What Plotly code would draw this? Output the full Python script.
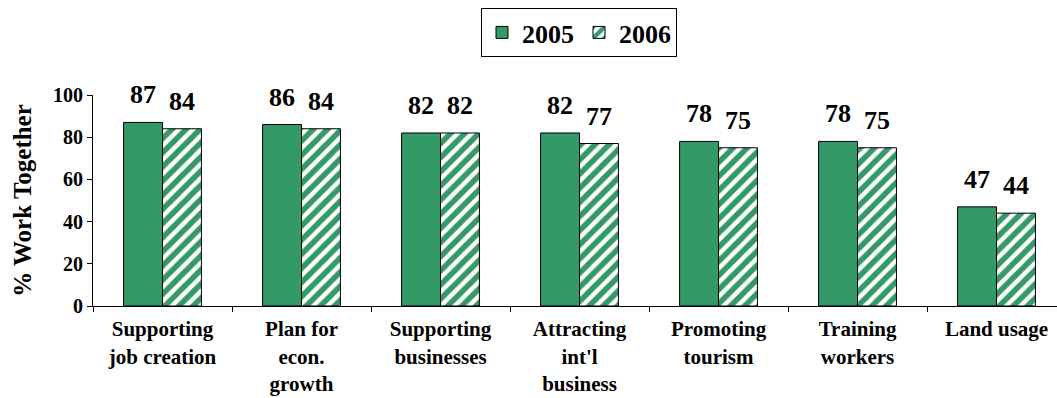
import plotly.graph_objects as go

# Survey share of respondents who work together, by activity
categories = [
    "Supporting<br>job creation",
    "Plan for<br>econ.<br>growth",
    "Supporting<br>businesses",
    "Attracting<br>int'l<br>business",
    "Promoting<br>tourism",
    "Training<br>workers",
    "Land usage",
]
vals_2005 = [87, 86, 82, 82, 78, 78, 47]
vals_2006 = [84, 84, 82, 77, 75, 75, 44]
y_ticks = [0, 20, 40, 60, 80, 100]

GREEN = "#339966"
FONT = "Liberation Serif, Times New Roman, serif"

fig = go.Figure()
fig.add_bar(
    x=categories, y=vals_2005, name="2005",
    marker=dict(color=GREEN, line=dict(color="black", width=1)),
)
fig.add_bar(
    x=categories, y=vals_2006, name="2006",
    marker=dict(
        color="white",
        pattern=dict(shape="/", fgcolor=GREEN, bgcolor="white", fgopacity=1,
                     size=10, solidity=0.55),
        line=dict(color="black", width=1),
    ),
)

# value labels above each bar
annotations = []
for cat, a, b in zip(categories, vals_2005, vals_2006):
    for v, dx in ((a, -19.5), (b, 19.5)):
        annotations.append(dict(
            x=cat, y=v, xref="x", yref="y", text=str(v), showarrow=False,
            xshift=dx, yshift=11, yanchor="bottom",
            font=dict(family=FONT, size=26, color="black", weight="bold"),
        ))

fig.update_layout(
    width=1057, height=398,
    margin=dict(l=93, r=0, t=95, b=92),
    paper_bgcolor="white", plot_bgcolor="white",
    barmode="group", bargap=0.44, bargroupgap=0,
    font=dict(family=FONT, color="black", weight="bold"),
    annotations=annotations,
    showlegend=True,
    legend=dict(
        orientation="h", xref="container", yref="container",
        x=579 / 1057, xanchor="center", y=1 - 8 / 398, yanchor="top",
        bgcolor="white", bordercolor="black", borderwidth=1,
        font=dict(family=FONT, size=26, color="black", weight="bold"),
        itemwidth=30,
    ),
)
fig.update_xaxes(
    type="category", range=[-0.5, 6.435],
    tickson="boundaries", ticks="outside", ticklen=5, tickcolor="black",
    showline=True, linecolor="black", linewidth=1, showgrid=False,
    ticklabelstandoff=4,
    tickfont=dict(family=FONT, size=21, color="black", weight="bold"),
)
fig.update_yaxes(
    range=[0, 100], tickvals=y_ticks, ticks="outside", ticklen=5, tickcolor="black",
    showline=True, linecolor="black", linewidth=1, showgrid=False, zeroline=False,
    tickfont=dict(family=FONT, size=20, color="black", weight="bold"),
    title=dict(text="% Work Together", standoff=14,
               font=dict(family=FONT, size=25, color="black", weight="bold")),
)

fig.write_html("out.html")
